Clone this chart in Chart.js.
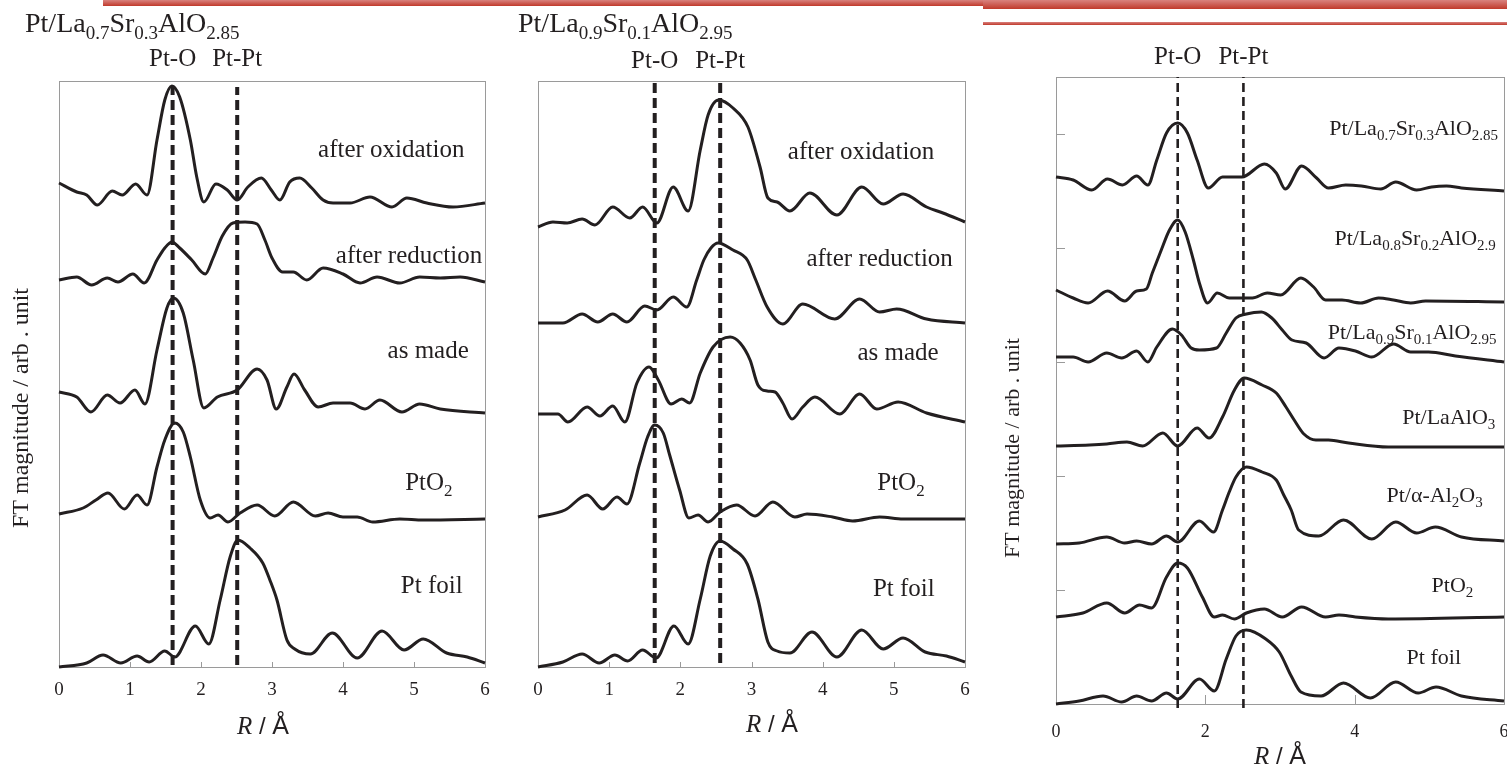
<!DOCTYPE html>
<html>
<head>
<meta charset="utf-8">
<title>Pt L3-edge EXAFS Fourier transforms</title>
<script src="https://cdn.jsdelivr.net/npm/chart.js@4.4.1/dist/chart.umd.min.js"></script>
<style>
  body { margin: 0; background: #fff; width: 1507px; height: 767px; overflow: hidden; position: relative; }
  .bar { position: absolute; background: linear-gradient(#d9827e, #c0392b); }
  .panel { position: absolute; top: 0; }
</style>
</head>
<body>
<div class="bar" style="left:103px; top:0; width:880px; height:6px"></div>
<div class="bar" style="left:983px; top:0; width:524px; height:9px"></div>
<div class="bar" style="left:983px; top:22px; width:524px; height:3px"></div>

<div class="panel" style="left:0"><canvas id="c1" width="500" height="767"></canvas></div>
<div class="panel" style="left:500px"><canvas id="c2" width="480" height="767"></canvas></div>
<div class="panel" style="left:985px"><canvas id="c3" width="522" height="767"></canvas></div>

<script>
// ---- data: [R (A), FT magnitude] pairs, each curve relative to its own baseline ----

// Pt/La0.7Sr0.3AlO2.85 series
var oxi1 = [[0,0.22],[0.25,0.13],[0.39,0.10],[0.54,0.00],[0.75,0.14],[0.89,0.10],[1.08,0.21],[1.24,0.10],[1.38,0.65],[1.49,1.05],[1.59,1.19],[1.70,1.08],[1.85,0.65],[1.94,0.28],[2.04,0.03],[2.21,0.21],[2.37,0.15],[2.51,0.05],[2.66,0.18],[2.85,0.27],[2.99,0.15],[3.11,0.05],[3.25,0.23],[3.39,0.27],[3.56,0.17],[3.72,0.05],[3.86,0.02],[4.10,0.02],[4.38,0.08],[4.69,-0.02],[4.90,0.07],[5.18,0.02],[5.55,-0.02],[6.00,0.02]];
var red1 = [[0,0.05],[0.25,0.08],[0.46,0.00],[0.68,0.07],[0.83,0.03],[1.04,0.11],[1.20,0.02],[1.38,0.25],[1.49,0.37],[1.59,0.43],[1.70,0.37],[1.87,0.25],[2.06,0.11],[2.17,0.27],[2.30,0.49],[2.45,0.62],[2.62,0.63],[2.79,0.61],[2.90,0.45],[3.00,0.27],[3.15,0.13],[3.30,0.13],[3.49,0.05],[3.72,0.17],[4.00,0.11],[4.24,0.02],[4.48,0.08],[4.80,0.02],[5.08,0.08],[5.37,0.07],[5.65,0.08],[6.00,0.03]];
var made1 = [[0,0.21],[0.25,0.16],[0.45,0.01],[0.68,0.18],[0.86,0.10],[1.07,0.23],[1.21,0.09],[1.38,0.63],[1.52,1.05],[1.61,1.15],[1.75,1.00],[1.89,0.53],[2.04,0.05],[2.23,0.16],[2.51,0.23],[2.79,0.44],[2.93,0.33],[3.06,0.04],[3.21,0.26],[3.31,0.39],[3.46,0.23],[3.65,0.06],[3.86,0.10],[4.10,0.10],[4.31,0.04],[4.52,0.13],[4.83,0.01],[5.08,0.09],[5.37,0.04],[6.00,0.00]];
var pto1 = [[0,0.08],[0.34,0.14],[0.52,0.22],[0.69,0.29],[0.92,0.13],[1.10,0.27],[1.24,0.17],[1.38,0.55],[1.49,0.82],[1.63,0.99],[1.75,0.90],[1.85,0.65],[1.99,0.22],[2.13,0.04],[2.24,0.07],[2.38,0.00],[2.55,0.09],[2.79,0.17],[3.04,0.06],[3.30,0.20],[3.61,0.06],[3.79,0.09],[4.00,0.05],[4.20,0.05],[4.42,0.00],[4.80,0.03],[5.13,0.02],[6.00,0.03]];
var foil1 = [[0,0.00],[0.39,0.04],[0.62,0.12],[0.87,0.04],[1.10,0.11],[1.27,0.05],[1.49,0.16],[1.63,0.10],[1.92,0.41],[2.11,0.23],[2.27,0.67],[2.41,1.10],[2.52,1.27],[2.69,1.19],[2.87,1.04],[2.97,0.87],[3.07,0.67],[3.21,0.27],[3.32,0.18],[3.54,0.13],[3.85,0.34],[4.20,0.09],[4.55,0.36],[4.86,0.17],[5.13,0.28],[5.46,0.14],[5.75,0.10],[6.00,0.04]];
var names1 = ['after oxidation', 'after reduction', 'as made', 'PtO{2}', 'Pt foil'];
var offsets1 = [4.62, 3.82, 2.54, 1.45, 0];
var bonds1 = [1.60, 2.51];

// Pt/La0.9Sr0.1AlO2.95 series
var oxi2 = [[0,0.00],[0.21,0.05],[0.41,0.04],[0.62,0.08],[0.80,0.02],[1.05,0.20],[1.29,0.09],[1.47,0.20],[1.67,0.04],[1.90,0.40],[2.11,0.16],[2.28,0.77],[2.39,1.12],[2.54,1.27],[2.74,1.19],[2.95,1.00],[3.12,0.60],[3.23,0.29],[3.36,0.25],[3.54,0.16],[3.82,0.34],[4.20,0.12],[4.55,0.40],[4.85,0.23],[5.13,0.33],[5.46,0.20],[5.69,0.14],[6.00,0.05]];
var red2 = [[0,0.01],[0.35,0.01],[0.62,0.10],[0.84,0.02],[1.05,0.10],[1.25,0.02],[1.50,0.18],[1.67,0.14],[1.90,0.27],[2.09,0.17],[2.23,0.44],[2.33,0.64],[2.43,0.76],[2.53,0.81],[2.74,0.74],[2.94,0.64],[3.06,0.44],[3.22,0.17],[3.44,0.00],[3.72,0.20],[4.17,0.05],[4.52,0.25],[4.80,0.12],[5.04,0.15],[5.46,0.05],[6.00,0.01]];
var made2 = [[0,0.08],[0.28,0.08],[0.42,0.00],[0.69,0.15],[0.87,0.06],[1.05,0.16],[1.22,0.00],[1.39,0.39],[1.56,0.55],[1.69,0.42],[1.87,0.18],[2.02,0.23],[2.13,0.19],[2.28,0.49],[2.46,0.75],[2.70,0.85],[2.84,0.79],[2.98,0.62],[3.09,0.37],[3.22,0.31],[3.33,0.30],[3.44,0.19],[3.57,0.03],[3.72,0.15],[3.89,0.25],[4.24,0.08],[4.52,0.28],[4.76,0.13],[5.06,0.20],[5.46,0.09],[6.00,0.00]];
var pto2 = [[0,0.05],[0.38,0.12],[0.69,0.27],[0.91,0.13],[1.11,0.25],[1.25,0.18],[1.43,0.59],[1.54,0.85],[1.64,0.97],[1.76,0.89],[1.85,0.67],[1.99,0.32],[2.12,0.04],[2.25,0.07],[2.39,0.00],[2.56,0.10],[2.79,0.17],[3.05,0.06],[3.30,0.20],[3.61,0.05],[3.78,0.08],[4.14,0.05],[4.42,0.01],[4.80,0.05],[5.13,0.03],[6.00,0.03]];
var foil2 = [[0,0.00],[0.35,0.05],[0.62,0.13],[0.86,0.04],[1.08,0.12],[1.26,0.06],[1.47,0.17],[1.66,0.09],[1.91,0.41],[2.11,0.23],[2.28,0.68],[2.42,1.11],[2.56,1.26],[2.74,1.18],[2.94,1.03],[3.09,0.68],[3.23,0.25],[3.36,0.16],[3.54,0.14],[3.85,0.35],[4.20,0.10],[4.55,0.37],[4.85,0.18],[5.13,0.29],[5.44,0.15],[5.74,0.11],[6.00,0.05]];
var names2 = ['after oxidation', 'after reduction', 'as made', 'PtO{2}', 'Pt foil'];
var offsets2 = [4.40, 3.43, 2.45, 1.45, 0];
var bonds2 = [1.64, 2.56];

// supports compared, reduced state
var lsa73 = [[0,0.14],[0.23,0.11],[0.48,0.01],[0.69,0.12],[0.89,0.06],[1.08,0.15],[1.23,0.06],[1.35,0.31],[1.48,0.58],[1.63,0.68],[1.76,0.58],[1.89,0.31],[2.04,0.03],[2.23,0.14],[2.49,0.14],[2.79,0.27],[2.95,0.18],[3.07,0.02],[3.29,0.25],[3.49,0.13],[3.65,0.03],[3.88,0.06],[4.09,0.05],[4.35,0.02],[4.55,0.09],[4.83,0.01],[5.03,0.04],[5.23,0.05],[5.43,0.03],[6.00,0.00]];
var lsa82 = [[0,0.13],[0.23,0.05],[0.43,0.00],[0.69,0.12],[0.92,0.02],[1.08,0.12],[1.21,0.14],[1.29,0.30],[1.41,0.53],[1.52,0.73],[1.63,0.83],[1.73,0.71],[1.84,0.43],[1.92,0.20],[2.03,0.00],[2.16,0.10],[2.32,0.05],[2.63,0.05],[2.83,0.10],[3.01,0.08],[3.28,0.25],[3.45,0.16],[3.61,0.03],[3.83,0.03],[4.08,0.00],[4.32,0.05],[4.52,0.03],[4.75,0.00],[4.95,0.02],[6.00,0.01]];
var lsa91 = [[0,0.05],[0.23,0.05],[0.43,0.00],[0.68,0.09],[0.88,0.04],[1.08,0.11],[1.23,0.00],[1.35,0.15],[1.56,0.33],[1.68,0.27],[1.81,0.14],[1.92,0.12],[2.15,0.14],[2.28,0.29],[2.41,0.44],[2.55,0.48],[2.75,0.50],[2.89,0.44],[3.03,0.32],[3.16,0.22],[3.35,0.19],[3.59,0.04],[3.79,0.14],[4.01,0.11],[4.23,0.05],[4.52,0.18],[4.75,0.10],[4.99,0.10],[5.35,0.06],[6.00,0.00]];
var lao = [[0,0.01],[0.45,0.02],[0.68,0.03],[0.95,0.05],[1.16,0.01],[1.43,0.14],[1.63,0.01],[1.89,0.19],[2.05,0.09],[2.23,0.30],[2.39,0.57],[2.52,0.69],[2.76,0.62],[2.95,0.54],[3.08,0.40],[3.19,0.27],[3.32,0.13],[3.48,0.07],[3.65,0.07],[3.92,0.04],[4.45,0.00],[6.00,0.00]];
var alumina = [[0,0.00],[0.31,0.01],[0.68,0.07],[0.92,0.01],[1.08,0.03],[1.28,0.00],[1.48,0.08],[1.63,0.02],[1.92,0.23],[2.11,0.12],[2.23,0.34],[2.32,0.52],[2.41,0.67],[2.55,0.77],[2.76,0.72],[2.95,0.64],[3.05,0.49],[3.15,0.34],[3.25,0.14],[3.52,0.08],[3.85,0.24],[4.23,0.05],[4.55,0.22],[4.83,0.11],[5.08,0.17],[5.43,0.07],[6.00,0.03]];
var pto3 = [[0,0.02],[0.36,0.06],[0.68,0.16],[0.92,0.06],[1.12,0.14],[1.28,0.11],[1.48,0.42],[1.63,0.56],[1.76,0.51],[1.96,0.22],[2.12,0.02],[2.23,0.04],[2.39,0.00],[2.55,0.06],[2.79,0.10],[3.03,0.02],[3.29,0.12],[3.61,0.02],[3.79,0.04],[4.01,0.02],[4.45,0.00],[6.00,0.02]];
var foil3 = [[0,0.00],[0.31,0.03],[0.63,0.08],[0.88,0.02],[1.08,0.08],[1.28,0.03],[1.48,0.11],[1.63,0.05],[1.92,0.25],[2.12,0.13],[2.28,0.45],[2.41,0.68],[2.55,0.74],[2.81,0.65],[2.99,0.52],[3.15,0.28],[3.28,0.12],[3.55,0.08],[3.85,0.21],[4.21,0.06],[4.55,0.22],[4.85,0.11],[5.09,0.17],[5.43,0.08],[6.00,0.03]];
var names3 = ['Pt/La{0.7}Sr{0.3}AlO{2.85}', 'Pt/La{0.8}Sr{0.2}AlO{2.9}', 'Pt/La{0.9}Sr{0.1}AlO{2.95}', 'Pt/LaAlO{3}', 'Pt/\u03b1-Al{2}O{3}', 'PtO{2}', 'Pt foil'];
var offsets3 = [5.13, 4.01, 3.42, 2.57, 1.60, 0.85, 0];
var bonds3 = [1.63, 2.51];

var bondNames = ['Pt-O', 'Pt-Pt'];
var yMarks3 = [1.14, 2.28, 3.42, 4.56, 5.70];

var SERIF = '"Liberation Serif", "Times New Roman", serif';
var SANS = '"Liberation Sans", Arial, sans-serif';
var INK = '#231f20';
var FRAME = '#9a9a9a';

// text with {subscript} runs
function parseRich(s) {
    var out = [], re = /([^{]+)|\{([^}]*)\}/g, m;
    while ((m = re.exec(s))) {
        if (m[1] !== undefined) out.push({ t: m[1], sub: false });
        else out.push({ t: m[2], sub: true });
    }
    return out;
}

function drawRich(ctx, s, x, y, size, align) {
    var parts = parseRich(s);
    var subSize = Math.round(size * 0.68);
    var w = 0;
    parts.forEach(function (p) {
        ctx.font = (p.sub ? subSize : size) + 'px ' + SERIF;
        p.w = ctx.measureText(p.t).width;
        w += p.w;
    });
    var cx = align === 'center' ? x - w / 2 : (align === 'right' ? x - w : x);
    ctx.textAlign = 'left';
    ctx.textBaseline = 'alphabetic';
    parts.forEach(function (p) {
        ctx.font = (p.sub ? subSize : size) + 'px ' + SERIF;
        ctx.fillText(p.t, cx, p.sub ? y + size * 0.24 : y);
        cx += p.w;
    });
}

// frame, inner tick marks, curve labels and titles
var decor = {
    id: 'decor',
    beforeDatasetsDraw: function (chart, args, o) {
        var ctx = chart.ctx, a = chart.chartArea;
        var xs = chart.scales.x, ys = chart.scales.y;
        ctx.save();
        ctx.strokeStyle = FRAME;
        ctx.lineWidth = 1;
        ctx.strokeRect(a.left + 0.5, a.top + 0.5, a.right - a.left, a.bottom - a.top);
        ctx.beginPath();
        o.xMarks.forEach(function (v) {
            var px = Math.round(xs.getPixelForValue(v)) + 0.5;
            ctx.moveTo(px, a.bottom);
            ctx.lineTo(px, a.bottom - o.markLen);
        });
        o.yMarks.forEach(function (v) {
            var py = Math.round(ys.getPixelForValue(v)) + 0.5;
            ctx.moveTo(a.left, py);
            ctx.lineTo(a.left + o.markLen, py);
        });
        ctx.stroke();
        ctx.restore();
    },
    afterDraw: function (chart, args, o) {
        var ctx = chart.ctx;
        var xs = chart.scales.x, ys = chart.scales.y;
        ctx.save();
        ctx.fillStyle = INK;

        // curve names
        o.names.forEach(function (n, i) {
            var p = o.namePos[i];
            drawRich(ctx, n, xs.getPixelForValue(p[0]), ys.getPixelForValue(p[1]) + o.nameSize * 0.3, o.nameSize, 'center');
        });

        // bond labels above the dashed lines
        o.bonds.forEach(function (b, i) {
            drawRich(ctx, bondNames[i], xs.getPixelForValue(b), o.bondY, o.bondSize, 'center');
        });

        if (o.title) drawRich(ctx, o.title, o.titleX, 32, 28, 'left');

        // y title
        if (o.yTitle) {
            ctx.save();
            ctx.translate(o.yTitle[0], o.yTitle[1]);
            ctx.rotate(-Math.PI / 2);
            ctx.font = o.yTitleSize + 'px ' + SERIF;
            ctx.textAlign = 'center';
            ctx.textBaseline = 'middle';
            ctx.fillText('FT magnitude / arb . unit', 0, 0);
            ctx.restore();
        }

        // x title: R / Å
        var segs = [
            { t: 'R', f: 'italic 25px ' + SERIF },
            { t: ' / ', f: '24px ' + SANS },
            { t: '\u00c5', f: '25px ' + SANS }
        ];
        var w = 0;
        segs.forEach(function (s) { ctx.font = s.f; s.w = ctx.measureText(s.t).width; w += s.w; });
        var cx = o.xTitle[0] - w / 2;
        ctx.textAlign = 'left';
        ctx.textBaseline = 'alphabetic';
        segs.forEach(function (s) { ctx.font = s.f; ctx.fillText(s.t, cx, o.xTitle[1]); cx += s.w; });
        ctx.restore();
    }
};

function buildPanel(id, curves, offsets, bonds, yMax, pad, cfg) {
    var datasets = curves.map(function (c, i) {
        return {
            data: c.map(function (p) { return { x: p[0], y: p[1] + offsets[i] }; }),
            borderColor: INK,
            borderWidth: 3,
            pointRadius: 0,
            cubicInterpolationMode: 'monotone',
            clip: false
        };
    });
    bonds.forEach(function (b) {
        datasets.push({
            data: [{ x: b, y: cfg.dashFrom }, { x: b, y: cfg.dashTo }],
            borderColor: INK,
            borderWidth: cfg.dashWidth,
            borderDash: cfg.dash,
            pointRadius: 0,
            clip: false
        });
    });
    cfg.bonds = bonds;
    return new Chart(document.getElementById(id), {
        type: 'line',
        data: { datasets: datasets },
        options: {
            responsive: false,
            animation: false,
            events: [],
            layout: { padding: pad },
            scales: {
                x: {
                    type: 'linear', min: 0, max: 6,
                    grid: { display: false, drawTicks: false },
                    border: { display: false },
                    ticks: {
                        stepSize: cfg.step, padding: cfg.tickPad, color: INK, maxRotation: 0,
                        font: { family: SERIF, size: cfg.tickSize }
                    },
                    afterFit: function (s) { s.height = cfg.axisH; s.paddingLeft = 0; s.paddingRight = 0; }
                },
                y: { type: 'linear', min: 0, max: yMax, display: false }
            },
            plugins: { legend: { display: false }, tooltip: { enabled: false }, decor: cfg }
        },
        plugins: [decor]
    });
}

buildPanel('c1', [oxi1, red1, made1, pto1, foil1], offsets1, bonds1, 5.86,
    { left: 59, right: 15, top: 81, bottom: 55 },
    {
        names: names1, nameSize: 25,
        namePos: [[4.68, 5.18], [4.93, 4.12], [5.20, 3.17], [5.21, 1.85], [5.25, 0.82]],
        bondY: 66, bondSize: 25,
        title: 'Pt/La{0.7}Sr{0.3}AlO{2.85}', titleX: 25,
        yTitle: [22, 408], yTitleSize: 24,
        xTitle: [263, 734],
        xMarks: [1, 2, 3, 4, 5], yMarks: [], markLen: 5,
        step: 1, tickPad: 12, tickSize: 19, axisH: 45,
        dashFrom: 0.02, dashTo: 5.80, dashWidth: 4, dash: [10, 5]
    });

buildPanel('c2', [oxi2, red2, made2, pto2, foil2], offsets2, bonds2, 5.86,
    { left: 38, right: 15, top: 81, bottom: 55 },
    {
        names: names2, nameSize: 25,
        namePos: [[4.54, 5.16], [4.80, 4.09], [5.06, 3.15], [5.10, 1.85], [5.14, 0.79]],
        bondY: 68, bondSize: 25,
        title: 'Pt/La{0.9}Sr{0.1}AlO{2.95}', titleX: 18,
        yTitle: null, yTitleSize: 24,
        xTitle: [272, 732],
        xMarks: [1, 2, 3, 4, 5], yMarks: [], markLen: 5,
        step: 1, tickPad: 12, tickSize: 19, axisH: 45,
        dashFrom: 0.04, dashTo: 5.84, dashWidth: 4, dash: [10, 5]
    });

buildPanel('c3', [lsa73, lsa82, lsa91, lao, alumina, pto3, foil3], offsets3, bonds3, 6.27,
    { left: 71, right: 3, top: 77, bottom: 13 },
    {
        names: names3, nameSize: 22,
        namePos: [[4.79, 5.76], [4.81, 4.66], [4.77, 3.72], [5.26, 2.87], [5.07, 2.09], [5.31, 1.19], [5.06, 0.47]],
        bondY: 64, bondSize: 25,
        title: null, titleX: 0,
        yTitle: [28, 448], yTitleSize: 22,
        xTitle: [295, 764],
        xMarks: [2, 4], yMarks: yMarks3, markLen: 9,
        step: 2, tickPad: 17, tickSize: 18, axisH: 50,
        dashFrom: -0.04, dashTo: 6.27, dashWidth: 2.6, dash: [9, 5]
    });
</script>
</body>
</html>
